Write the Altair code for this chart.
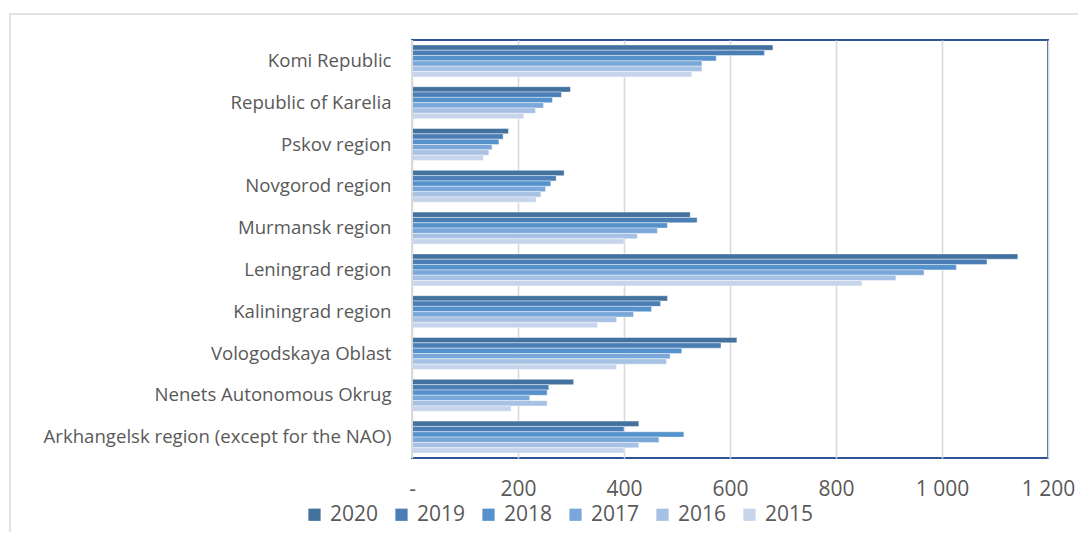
import altair as alt
import pandas as pd

regions = [
    "Komi Republic ",
    "Republic of Karelia",
    "Pskov region",
    "Novgorod region",
    "Murmansk region",
    "Leningrad region",
    "Kaliningrad region",
    "Vologodskaya Oblast",
    "Nenets Autonomous Okrug",
    "Arkhangelsk region (except for the NAO)",
]
years = ["2020", "2019", "2018", "2017", "2016", "2015"]
v2020 = [681, 299, 182, 287, 525, 1143, 482, 613, 305, 428]
v2019 = [665, 282, 172, 272, 538, 1085, 469, 583, 258, 400]
v2018 = [574, 265, 164, 262, 482, 1027, 452, 509, 255, 513]
v2017 = [547, 248, 151, 252, 463, 966, 418, 487, 222, 466]
v2016 = [547, 233, 145, 243, 425, 913, 386, 480, 255, 428]
v2015 = [528, 211, 135, 234, 400, 849, 350, 386, 187, 400]
colors = ["#44729E", "#4A7EB4", "#5592CC", "#7AA7D9", "#A6C1E4", "#C6D5EB"]
x_ticks = [0, 200, 400, 600, 800, 1000, 1200]

series = dict(zip(years, [v2020, v2019, v2018, v2017, v2016, v2015]))
rows = []
for y in years:
    for r, v in zip(regions, series[y]):
        rows.append({"region": r, "year": y, "value": v})
df = pd.DataFrame(rows)

FONT = "Open Sans"
TXT = "#595959"

x_enc = alt.X(
    "value:Q",
    scale=alt.Scale(domain=[0, 1200], nice=False),
    axis=alt.Axis(
        values=x_ticks,
        labelExpr="datum.value == 0 ? '-' : replace(format(datum.value, ','), ',', ' ')",
        title=None, domain=False, ticks=False,
        grid=True, gridColor="#D9D9D9", gridWidth=1.6,
        labelFont=FONT, labelFontSize=21, labelColor=TXT, labelPadding=20,
        labelFlush=False, labelOverlap=False,
    ),
)
y_enc = alt.Y(
    "region:N",
    sort=regions,
    scale=alt.Scale(paddingInner=0.235, paddingOuter=0.1175),
    axis=alt.Axis(
        title=None, domain=False, ticks=False, grid=False,
        labelFont=FONT, labelFontSize=18.6, labelColor=TXT, labelPadding=21,
        labelLimit=500,
    ),
)

bars = alt.Chart(df).mark_bar(stroke="white", strokeWidth=0.6, strokeOpacity=0.7).encode(
    x=x_enc,
    y=y_enc,
    yOffset=alt.YOffset("year:N", sort=years),
    color=alt.Color(
        "year:N",
        sort=years,
        scale=alt.Scale(domain=years, range=colors),
        legend=alt.Legend(
            title=None, orient="none", direction="horizontal",
            legendX=-108, legendY=464,
            symbolType="square", symbolSize=150, symbolStrokeWidth=0,
            labelFont=FONT, labelFontSize=21, labelColor=TXT, labelOffset=5,
            columnPadding=12,
        ),
    ),
)

left_rule = alt.Chart(pd.DataFrame({"v": [0]})).mark_rule(color="#D9D9D9", strokeWidth=2).encode(
    x=alt.X("v:Q", scale=alt.Scale(domain=[0, 1200], nice=False))
)

frame = alt.Chart(pd.DataFrame({"a": [0]})).mark_rect(
    fill=None, stroke="#D9D9D9", strokeWidth=1.5, clip=False
).encode(
    x=alt.value(-402), x2=alt.value(900), y=alt.value(-26), y2=alt.value(700)
)

chart = alt.layer(frame, bars, left_rule).properties(
    width=636, height=418,
    background="white",
    autosize=alt.AutoSizeParams(type="none"),
    padding={"left": 404, "top": 32, "right": 30, "bottom": 74},
).configure_view(
    stroke="#2F5597", strokeWidth=2
)

chart.save("out.html", embed_options={"renderer": "svg", "actions": False})
